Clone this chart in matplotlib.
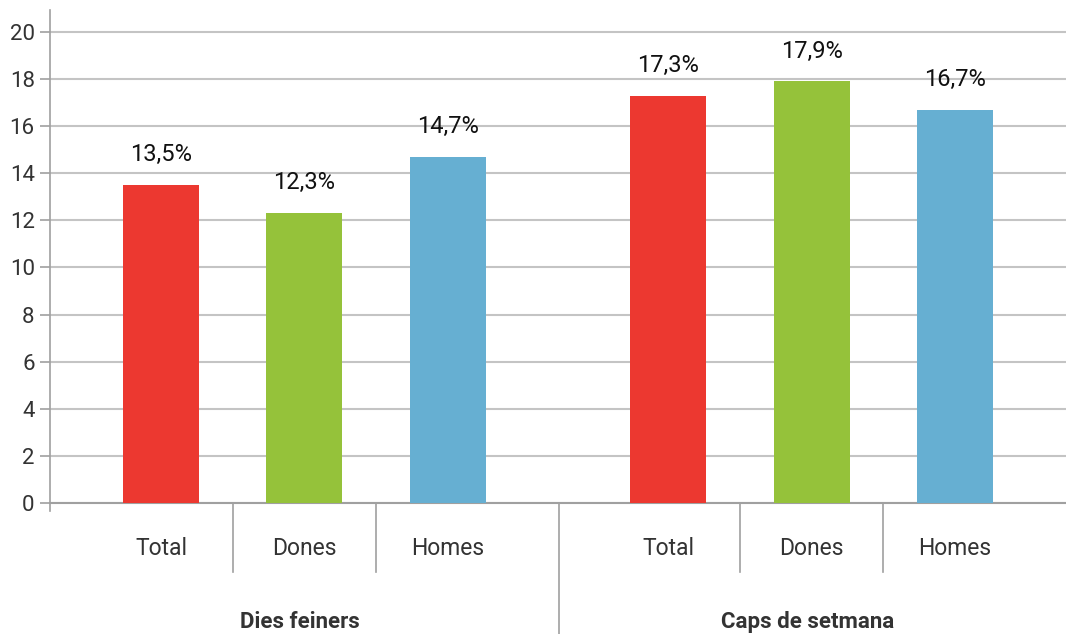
import matplotlib.pyplot as plt

plt.rcParams['font.family'] = ['Roboto', 'DejaVu Sans']

groups = ['Dies feiners', 'Caps de setmana']
categories = ['Total', 'Dones', 'Homes']
dies_feiners = [13.5, 12.3, 14.7]
caps_setmana = [17.3, 17.9, 16.7]
colors = ['#EC3830', '#95C23A', '#66AFD2']

fig = plt.figure(figsize=(10.66, 6.34), dpi=100)
ax = fig.add_axes([50 / 1066, 1 - 503 / 634, 1 - 50 / 1066, 493 / 634])

group_gap = 1.54
width = 0.53
text_color = '#333333'
line_color = '#a0a0a0'

for g, (name, vals) in enumerate(zip(groups, [dies_feiners, caps_setmana])):
    base = g * (len(categories) - 1 + group_gap)
    xs = [base + i for i in range(len(categories))]
    ax.bar(xs, vals, width=width, color=colors, zorder=3)
    for x, v, cat in zip(xs, vals, categories):
        ax.text(x, v + 0.8, f'{v:.1f}%'.replace('.', ','), ha='center', va='bottom',
                fontsize=17, color='#111111')
        ax.text(x, -1.95, cat, ha='center', va='center', fontsize=16.5, color=text_color,
                clip_on=False)
    # short separators between categories
    for i in range(len(categories) - 1):
        ax.plot([xs[i] + 0.5] * 2, [0, -2.95], color=line_color, lw=1.2, clip_on=False)
    ax.text(xs[1] - 0.03, -5.05, name, ha='center', va='center', fontsize=16,
            fontweight='bold', color=text_color, clip_on=False)

# long separator between the two groups
ax.plot([2.777] * 2, [0, -5.7], color=line_color, lw=1.2, clip_on=False)

ax.set_xlim(-0.775, 6.315)
ax.set_ylim(0, 20.93)
ax.set_yticks(range(0, 21, 2))
ax.tick_params(axis='y', labelsize=16, labelcolor=text_color, color=line_color,
               length=7, width=1.2, pad=4)
ax.set_xticks([])
ax.yaxis.grid(True, color='#c4c4c4', lw=1.5, zorder=0)
ax.set_axisbelow(True)
for side in ['top', 'right']:
    ax.spines[side].set_visible(False)
ax.spines['left'].set_color(line_color)
ax.spines['left'].set_linewidth(1.2)
ax.spines['left'].set_bounds(-0.35, 20.93)
ax.spines['bottom'].set_color(line_color)
ax.spines['bottom'].set_linewidth(1.5)

fig.savefig('out.png', dpi=100)
